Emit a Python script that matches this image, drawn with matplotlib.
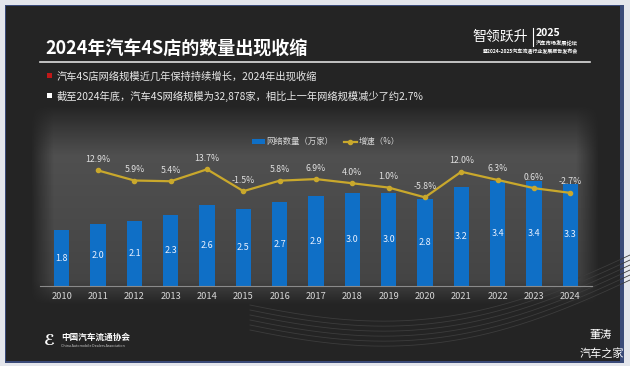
import matplotlib
matplotlib.use("Agg")
import matplotlib.pyplot as plt
import numpy as np
from matplotlib.patches import Rectangle
from matplotlib.lines import Line2D
from matplotlib.patches import Patch

plt.rcParams['font.family'] = ['Noto Sans CJK SC', 'DejaVu Sans']

years = ['2010', '2011', '2012', '2013', '2014', '2015', '2016', '2017',
         '2018', '2019', '2020', '2021', '2022', '2023', '2024']
counts = [1.8, 2.0, 2.1, 2.3, 2.6, 2.5, 2.7, 2.9, 3.0, 3.0, 2.8, 3.2, 3.4, 3.4, 3.3]
growth = [None, 12.9, 5.9, 5.4, 13.7, -1.5, 5.8, 6.9, 4.0, 1.0, -5.8, 12.0, 6.3, 0.6, -2.7]

title = "2024年汽车4S店的数量出现收缩"
bullets = ["汽车4S店网络规模近几年保持持续增长，2024年出现收缩",
           "截至2024年底，汽车4S网络规模为32,878家，相比上一年网络规模减少了约2.7%"]

BLUE = '#0f6fc6'
GOLD = '#c9a82c'

W, H = 630, 366
fig = plt.figure(figsize=(W / 100, H / 100), dpi=100)
fig.patch.set_facecolor('#e4e6ec')

# background in pixel coordinates
bg = fig.add_axes([0, 0, 1, 1], zorder=0)
bg.set_xlim(0, W)
bg.set_ylim(H, 0)
bg.axis('off')

bg.add_patch(Rectangle((5, 5), 619, 358, facecolor='#3a4a78', edgecolor='none'))
bg.add_patch(Rectangle((6, 6), 614, 355, facecolor='#242424', edgecolor='none'))

# chart panel: soft gray glow that fades into the slide
ny, nx = 200, 300
yy = np.linspace(0, 1, ny)[:, None]
xx = np.linspace(0, 1, nx)[None, :]
a_y = np.clip(yy / 0.25, 0, 1) * np.clip((1 - yy) / 0.12, 0, 1)
a_x = np.clip(xx / 0.04, 0, 1) * np.clip((1 - xx) / 0.04, 0, 1)
shade = 0.33 - 0.07 * yy
rgba = np.zeros((ny, nx, 4))
rgba[..., 0] = shade
rgba[..., 1] = shade
rgba[..., 2] = shade
rgba[..., 3] = a_y * a_x
bg.imshow(rgba, extent=(30, 600, 305, 105), aspect='auto', zorder=1)

# faint decorative curves near the bottom
t = np.linspace(0, 1, 200)
for i in range(6):
    xs = 250 + 380 * t
    ys = 305 + 25 * np.sin(np.pi * t) - 50 * t ** 2 + i * 5
    bg.plot(xs, ys, color='#3c3c3c', lw=0.6, zorder=2)
bg.set_xlim(0, W)
bg.set_ylim(H, 0)

# title and bullets
bg.text(45, 49, title, color='white', fontsize=13, fontweight='bold', va='center', ha='left', zorder=3)
bg.plot([40, 590], [62, 62], color='#dddddd', lw=1.2, zorder=3)
bg.add_patch(Rectangle((47, 73), 5, 5, facecolor='#c01818', edgecolor='none', zorder=3))
bg.add_patch(Rectangle((47, 93), 5, 5, facecolor='white', edgecolor='none', zorder=3))
bg.text(57, 76, bullets[0], color='#e8e8e8', fontsize=7.4, va='center', ha='left', zorder=3)
bg.text(57, 96, bullets[1], color='#e8e8e8', fontsize=7.4, va='center', ha='left', zorder=3)

# top-right logo
bg.text(500, 37, "智领跃升", color='white', fontsize=10, style='italic', ha='center', va='center', zorder=3)
bg.plot([533, 533], [28, 46], color='white', lw=0.8, zorder=3)
bg.text(536, 33, "2025", color='white', fontsize=7.5, fontweight='bold', ha='left', va='center', zorder=3)
bg.text(536, 43, "汽车市场发展论坛", color='white', fontsize=3.8, fontweight='bold', ha='left', va='center', zorder=3)
bg.text(530, 51, "暨2024-2025汽车流通行业发展报告发布会", color='white', fontsize=3.6, fontweight='bold', ha='center', va='center', zorder=3)

# bottom-left logo
bg.text(49, 340, "ℰ", color='white', fontsize=11, style='italic', fontweight='bold', ha='center', va='center', zorder=3)
bg.text(61, 337, "中国汽车流通协会", color='white', fontsize=6.2, fontweight='bold', ha='left', va='center', zorder=3)
bg.text(61, 346, "China Automobile Dealers Association", color='#cccccc', fontsize=2.6, ha='left', va='center', zorder=3)

# watermark
bg.text(612, 335, "董涛", color='white', fontsize=8, ha='right', va='center', zorder=3)
bg.text(624, 354, "汽车之家", color='white', fontsize=8, ha='right', va='center', zorder=3)

# chart
ax = fig.add_axes([40 / W, (H - 286) / H, (592 - 40) / W, (286 - 140) / H], zorder=2)
ax.patch.set_alpha(0)
x = np.arange(len(years))
ax.bar(x, counts, width=0.42, color=BLUE, zorder=2)
for xi, v in zip(x, counts):
    ax.text(xi, v / 2, f"{v:.1f}", color='#e8f0ff', fontsize=6.5, ha='center', va='center', zorder=3)
ax.set_xlim(-0.6, 14.6)
ax.set_ylim(0, 4.71)
ax.set_xticks(x)
ax.set_xticklabels(years, color='#d8d8d8', fontsize=6.7)
ax.tick_params(axis='x', length=0, pad=4)
ax.set_yticks([])
for s in ['top', 'left', 'right']:
    ax.spines[s].set_visible(False)
ax.spines['bottom'].set_color('#8a8a8a')
ax.spines['bottom'].set_linewidth(0.8)

ax2 = ax.twinx()
ax2.patch.set_alpha(0)
gx = [xi for xi, g in zip(x, growth) if g is not None]
gy = [g for g in growth if g is not None]
ax2.plot(gx, gy, color=GOLD, lw=1.6, marker='o', markersize=3, zorder=4)
for xi, g in zip(gx, gy):
    ax2.text(xi, g + 4.5, f"{g:.1f}%", color='#e0e0e0', fontsize=6.3, ha='center', va='bottom', zorder=5)
ax2.set_ylim(-67.5, 34.1)
ax2.set_yticks([])
for s in ['top', 'left', 'right', 'bottom']:
    ax2.spines[s].set_visible(False)

handles = [Patch(facecolor=BLUE, edgecolor='none'),
           Line2D([0], [0], color=GOLD, lw=1.6, marker='o', markersize=3)]
ax2.legend(handles, ["网络数量（万家）", "增速（%）"], loc='upper left',
           bbox_to_anchor=(0.37, 1.07), ncol=2, frameon=False, fontsize=6,
           labelcolor='#d8d8d8', handlelength=1.6, handleheight=0.5,
           handletextpad=0.2, columnspacing=1.2)

fig.savefig("out.png", dpi=100, facecolor=fig.get_facecolor())
